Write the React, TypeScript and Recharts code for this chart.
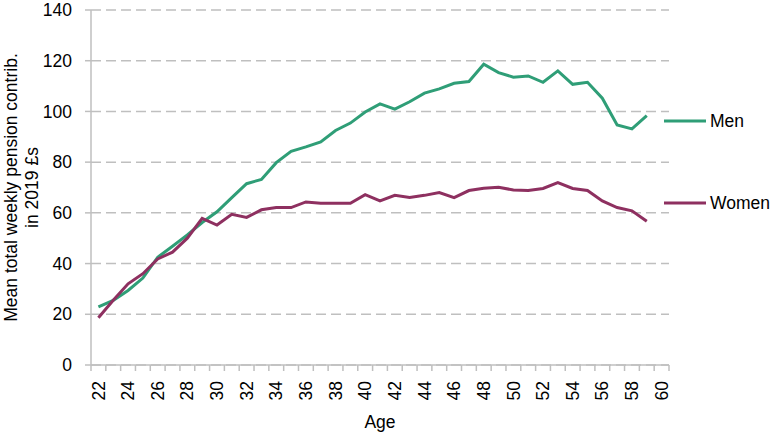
import React from "react";
import {
  CartesianGrid,
  Legend,
  Line,
  LineChart,
  XAxis,
  YAxis,
} from "recharts";

// ages 22..59, one value per age
const ages = [
  22, 23, 24, 25, 26, 27, 28, 29, 30, 31, 32, 33, 34, 35, 36, 37, 38, 39, 40,
  41, 42, 43, 44, 45, 46, 47, 48, 49, 50, 51, 52, 53, 54, 55, 56, 57, 58, 59,
];

const men = [
  22.9, 25.5, 29.4, 34.3, 42.5, 46.8, 51.3, 56.2, 60.4, 66, 71.5, 73.2, 79.8,
  84.3, 86, 88, 92.5, 95.4, 99.8, 103, 100.9, 103.8, 107.2, 108.9, 111.1,
  111.8, 118.6, 115.3, 113.5, 114, 111.5, 116, 110.7, 111.5, 105.2, 94.7, 93.1,
  98.3,
];

const women = [
  18.6, 25.5, 32, 36, 41.8, 44.5, 50, 57.8, 55.2, 59.4, 58.2, 61.2, 62.1, 62.1,
  64.3, 63.8, 63.8, 63.8, 67.2, 64.7, 66.9, 66.1, 66.9, 68, 66, 68.8, 69.7,
  70.1, 69, 68.8, 69.6, 71.9, 69.6, 68.8, 64.7, 62.1, 60.8, 56.7,
];

const ageLabels = [
  22, 24, 26, 28, 30, 32, 34, 36, 38, 40, 42, 44, 46, 48, 50, 52, 54, 56, 58,
  60,
];

// category boundaries (tick marks sit between ages, Excel style)
const boundaries = [
  21.5, 22.5, 23.5, 24.5, 25.5, 26.5, 27.5, 28.5, 29.5, 30.5, 31.5, 32.5, 33.5,
  34.5, 35.5, 36.5, 37.5, 38.5, 39.5, 40.5, 41.5, 42.5, 43.5, 44.5, 45.5, 46.5,
  47.5, 48.5, 49.5, 50.5, 51.5, 52.5, 53.5, 54.5, 55.5, 56.5, 57.5, 58.5, 59.5,
  60.5,
];

const yTicks = [0, 20, 40, 60, 80, 100, 120, 140];

const MEN_COLOR = "#2f9e77";
const WOMEN_COLOR = "#8e3060";
const AXIS_COLOR = "#bfbfbf";
const FONT_SIZE = 17.5;

const data = ages.map((age, i) => ({
  age,
  Men: men[i],
  Women: women[i],
}));

const XTick = (props: any) => {
  const { x, y, payload } = props;
  return (
    <g transform={`translate(${x},${y})`}>
      <text
        transform="rotate(-90)"
        x={-9}
        dy="0.35em"
        textAnchor="end"
        fill="#000"
        fontSize={FONT_SIZE}
      >
        {payload.value}
      </text>
    </g>
  );
};

const YTitle = () => (
  <g transform="translate(0,187.5)">
    <text
      transform="rotate(-90)"
      textAnchor="middle"
      fill="#000"
      fontSize={FONT_SIZE}
    >
      <tspan x={0} y={17}>
        Mean total weekly pension contrib.
      </tspan>
      <tspan x={0} y={38}>
        in 2019 £s
      </tspan>
    </text>
  </g>
);

const SideLegend = () => {
  const items = [
    { name: "Men", color: MEN_COLOR },
    { name: "Women", color: WOMEN_COLOR },
  ];
  return (
    <div style={{ width: 112 }}>
      {items.map((item) => (
        <div
          key={item.name}
          style={{
            display: "flex",
            alignItems: "center",
            height: 26,
            marginBottom: 56,
          }}
        >
          <svg width={46} height={6}>
            <line x1={0} y1={3} x2={42} y2={3} stroke={item.color} strokeWidth={3} />
          </svg>
          <span style={{ fontSize: FONT_SIZE, color: "#000" }}>{item.name}</span>
        </div>
      ))}
    </div>
  );
};

export default function App() {
  return (
    <div
      style={{
        position: "absolute",
        left: 0,
        top: 0,
        width: 781,
        height: 434,
        background: "#fff",
        fontFamily: "'Liberation Sans', Arial, sans-serif",
      }}
    >
      <LineChart
        width={781}
        height={434}
        data={data}
        margin={{ top: 10, right: 0, bottom: 0, left: 0 }}
      >
        <CartesianGrid
          xAxisId="b"
          vertical={false}
          stroke={AXIS_COLOR}
          strokeWidth={1.5}
          strokeDasharray="10 5"
        />
        {/* tick marks between categories, drawn right under the plot */}
        <XAxis
          xAxisId="a"
          dataKey="age"
          type="number"
          domain={[21.5, 60.5]}
          ticks={boundaries}
          interval={0}
          height={7}
          tickSize={6}
          tick={() => <g />}
          axisLine={{ stroke: AXIS_COLOR, strokeWidth: 1.5 }}
          tickLine={{ stroke: AXIS_COLOR, strokeWidth: 1.5 }}
        />
        {/* age labels + title */}
        <XAxis
          xAxisId="b"
          dataKey="age"
          type="number"
          domain={[21.5, 60.5]}
          ticks={ageLabels}
          interval={0}
          height={62}
          tickSize={0}
          tickMargin={0}
          axisLine={false}
          tickLine={false}
          tick={<XTick />}
          label={{
            value: "Age",
            position: "insideBottom",
            offset: 6,
            fill: "#000",
            fontSize: FONT_SIZE,
          }}
        />
        <YAxis
          domain={[0, 140]}
          ticks={yTicks}
          interval={0}
          width={91}
          tickSize={6}
          tickMargin={13}
          tick={{ fill: "#000", fontSize: FONT_SIZE }}
          axisLine={{ stroke: AXIS_COLOR, strokeWidth: 1.5 }}
          tickLine={{ stroke: AXIS_COLOR, strokeWidth: 1.5 }}
          label={<YTitle />}
        />
        <Legend
          layout="vertical"
          align="right"
          verticalAlign="middle"
          content={<SideLegend />}
          wrapperStyle={{ left: 664, top: 108, width: 112 }}
        />
        <Line
          xAxisId="b"
          type="linear"
          dataKey="Men"
          stroke={MEN_COLOR}
          strokeWidth={3}
          dot={false}
          isAnimationActive={false}
        />
        <Line
          xAxisId="b"
          type="linear"
          dataKey="Women"
          stroke={WOMEN_COLOR}
          strokeWidth={3}
          dot={false}
          isAnimationActive={false}
        />
      </LineChart>
    </div>
  );
}
